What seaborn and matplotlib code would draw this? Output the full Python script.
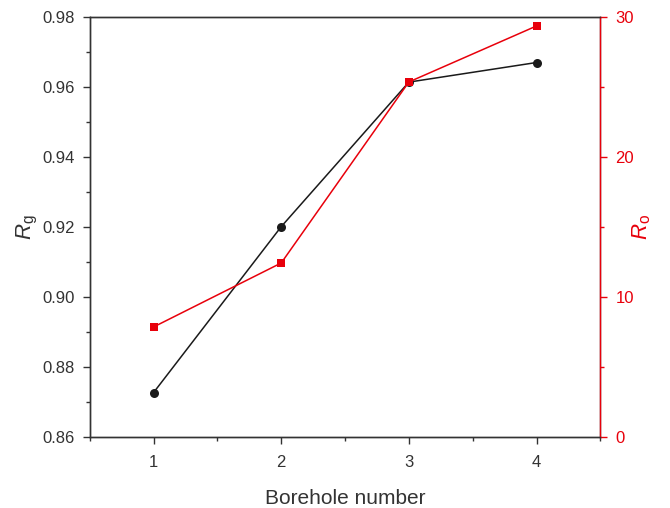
import matplotlib
matplotlib.use("Agg")
import matplotlib.pyplot as plt
from matplotlib.ticker import MultipleLocator
import seaborn as sns
import pandas as pd

boreholes = [1, 2, 3, 4]
rg_values = [0.8727, 0.9201, 0.9614, 0.9670]
ro_values = [7.86, 12.43, 25.36, 29.36]

sns.set_style("ticks")
plt.rcParams["font.family"] = ["Liberation Sans", "DejaVu Sans"]
plt.rcParams["mathtext.fontset"] = "custom"
plt.rcParams["mathtext.rm"] = "Liberation Sans"
plt.rcParams["mathtext.it"] = "Liberation Sans:italic"

df = pd.DataFrame({"borehole": boreholes, "Rg": rg_values, "Ro": ro_values})

fig = plt.figure(figsize=(6.7, 5.08), dpi=100)
ax = fig.add_axes([0.134, 0.1398, 0.762, 0.8267])
ax2 = ax.twinx()

dark = "#1a1a1a"
red = "#e8000b"

sns.lineplot(data=df, x="borehole", y="Rg", ax=ax, color=dark, marker="o",
             markersize=6.5, markeredgewidth=0, linewidth=1.1)
sns.lineplot(data=df, x="borehole", y="Ro", ax=ax2, color=red, marker="s",
             markersize=6, markeredgewidth=0, linewidth=1.1)

ax.set_xlim(0.5, 4.5)
ax.set_ylim(0.86, 0.98)
ax2.set_ylim(0, 30)

ax.set_xticks(boreholes)
ax.xaxis.set_minor_locator(MultipleLocator(0.5))
rg_ticks = [0.86, 0.88, 0.90, 0.92, 0.94, 0.96, 0.98]
ax.set_yticks(rg_ticks)
ax.set_yticklabels([f"{v:.2f}" for v in rg_ticks])
ax.yaxis.set_minor_locator(MultipleLocator(0.01))
ax2.set_yticks([0, 10, 20, 30])
ax2.yaxis.set_minor_locator(MultipleLocator(5))

for a in (ax, ax2):
    for s in a.spines.values():
        s.set_visible(True)
        s.set_linewidth(1.0)
        s.set_color("#333333")
ax2.spines["right"].set_color(red)

ax.tick_params(axis="both", which="major", direction="out", length=5, width=1,
               labelsize=12, colors="#333333", pad=6)
ax.tick_params(axis="x", which="major", pad=8)
ax.tick_params(axis="both", which="minor", direction="out", length=3, width=1,
               colors="#333333")
ax2.tick_params(axis="y", which="major", direction="out", length=5, width=1,
                labelsize=12, colors=red, pad=6)
ax2.tick_params(axis="y", which="minor", direction="out", length=3, width=1,
                colors=red)

ax.set_xlabel("Borehole number", fontsize=15, color="#333333", labelpad=14)
ax.set_ylabel(r"$R_\mathrm{g}$", fontsize=16, color="#333333")
ax2.set_ylabel(r"$R_\mathrm{o}$", fontsize=16, color=red, rotation=90)
ax.yaxis.set_label_coords(-0.098, 0.5)
ax2.yaxis.set_label_coords(1.059, 0.5)

fig.savefig("out.png", dpi=100, facecolor="white")
